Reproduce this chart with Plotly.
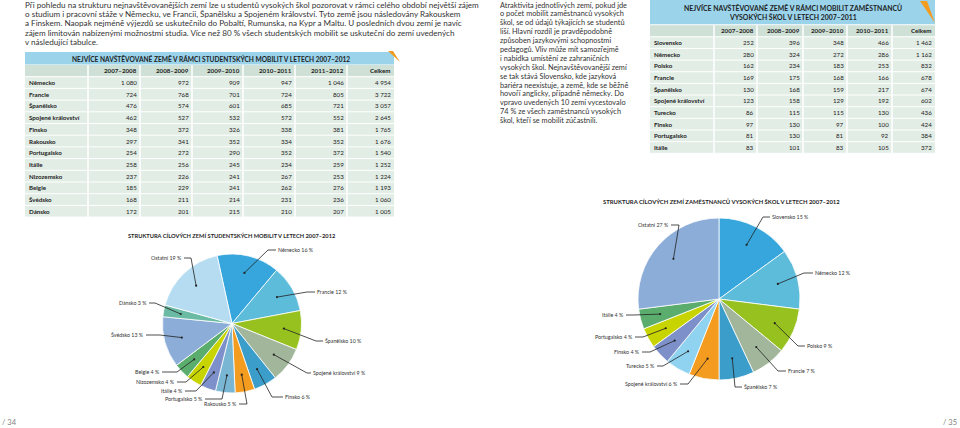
import numpy as np
import plotly.graph_objects as go

W, H = 960, 428
FONT = "Lato"

# ---------------- data ----------------
stud_years = ["2007–2008", "2008–2009", "2009–2010", "2010–2011", "2011–2012"]
stud_countries = ["Německo", "Francie", "Španělsko", "Spojené království", "Finsko", "Rakousko",
                  "Portugalsko", "Itálie", "Nizozemsko", "Belgie", "Švédsko", "Dánsko"]
stud_0708 = [1080, 724, 476, 462, 348, 297, 254, 258, 237, 185, 168, 172]
stud_0809 = [972, 768, 574, 527, 372, 341, 272, 256, 226, 229, 211, 201]
stud_0910 = [909, 701, 601, 532, 326, 352, 290, 245, 241, 241, 214, 215]
stud_1011 = [947, 724, 685, 572, 338, 334, 352, 234, 267, 262, 231, 210]
stud_1112 = [1046, 805, 721, 552, 381, 352, 372, 259, 253, 276, 236, 207]
stud_total = [4954, 3722, 3057, 2645, 1765, 1676, 1540, 1252, 1224, 1193, 1060, 1005]

staff_years = ["2007–2008", "2008–2009", "2009–2010", "2010–2011"]
staff_countries = ["Slovensko", "Německo", "Polsko", "Francie", "Španělsko", "Spojené království",
                   "Turecko", "Finsko", "Portugalsko", "Itálie"]
staff_0708 = [252, 280, 162, 169, 130, 123, 86, 97, 81, 83]
staff_0809 = [396, 324, 234, 175, 168, 158, 115, 130, 130, 101]
staff_0910 = [348, 272, 183, 168, 159, 129, 115, 97, 81, 83]
staff_1011 = [466, 286, 253, 166, 217, 192, 130, 100, 92, 105]
staff_total = [1462, 1162, 832, 678, 674, 602, 436, 424, 384, 372]

pie1_labels = ["Německo", "Francie", "Španělsko", "Spojené království", "Finsko", "Rakousko",
               "Portugalsko", "Itálie", "Nizozemsko", "Belgie", "Švédsko", "Dánsko", "Ostatní"]
pie1_values = [16, 12, 10, 9, 6, 5, 5, 4, 4, 4, 13, 3, 19]

pie2_labels = ["Slovensko", "Německo", "Polsko", "Francie", "Španělsko", "Spojené království",
               "Turecko", "Finsko", "Portugalsko", "Itálie", "Ostatní"]
pie2_values = [15, 12, 9, 7, 7, 6, 5, 4, 4, 4, 27]

text_left = [
    "Při pohledu na strukturu nejnavštěvovanějších zemí lze u studentů vysokých škol pozorovat v rámci celého období největší zájem",
    "o studium i pracovní stáže v Německu, ve Francii, Španělsku a Spojeném království. Tyto země jsou následovány Rakouskem",
    "a Finskem. Naopak nejméně výjezdů se uskutečnilo do Pobaltí, Rumunska, na Kypr a Maltu. U posledních dvou zemí je navíc",
    "zájem limitován nabízenými možnostmi studia. Více než 80 % všech studentských mobilit se uskuteční do zemí uvedených",
    "v následující tabulce.",
]
text_right = [
    "Atraktivita jednotlivých zemí, pokud jde",
    "o počet mobilit zaměstnanců vysokých",
    "škol, se od údajů týkajících se studentů",
    "liší. Hlavní rozdíl je pravděpodobně",
    "způsoben jazykovými schopnostmi",
    "pedagogů. Vliv může mít samozřejmě",
    "i nabídka umístění ze zahraničních",
    "vysokých škol. Nejnavštěvovanější zemí",
    "se tak stává Slovensko, kde jazyková",
    "bariéra neexistuje, a země, kde se běžně",
    "hovoří anglicky, případně německy. Do",
    "vpravo uvedených 10 zemí vycestovalo",
    "74 % ze všech zaměstnanců vysokých",
    "škol, kteří se mobilit zúčastnili.",
]

# ---------------- styles ----------------
pie1_colors = ["#36a6dc", "#5cbcda", "#96c11f", "#a2b69c", "#3b9dca", "#f39c1f", "#78b6d4",
               "#7d90c9", "#c8d400", "#5bad6d", "#8cadd8", "#6bbaa3", "#b6dcf1"]
pie2_colors = ["#36a6dc", "#5cbcda", "#96c11f", "#a2b69c", "#3b9dca", "#f39c1f", "#8fd3f0",
               "#7d90c9", "#c8d400", "#5bad6d", "#8cadd8"]

# label layout: elbow point and text x (page pixels)
label_pos1 = {
    "Německo": (268, 250, 277), "Francie": (307, 292, 316), "Španělsko": (316, 341, 324),
    "Spojené království": (307, 373, 312), "Finsko": (272, 397, 284), "Rakousko": (247, 404, 238),
    "Portugalsko": (222, 399, 204), "Itálie": (196, 391, 184), "Nizozemsko": (186, 382, 176),
    "Belgie": (177, 372, 161), "Švédsko": (160, 335, 145), "Dánsko": (155, 303, 148),
    "Ostatní": (191, 258, 183),
}
label_pos2 = {
    "Slovensko": (763, 217, 771), "Německo": (804, 273, 814), "Polsko": (798, 346, 806),
    "Francie": (778, 371, 787), "Španělsko": (735, 387, 743), "Spojené království": (688, 384, 679),
    "Turecko": (663, 366, 656), "Finsko": (650, 352, 641), "Portugalsko": (643, 337, 634),
    "Itálie": (633, 315, 625), "Ostatní": (679, 225, 670),
}

TXT = "#333333"
BLUE_BAR = "#9ad3ea"
HEAD_BG = "#cfe0d6"
CELL_BG = "#e2ede6"


def px(x):
    return x / W


def py(y):
    return 1 - y / H


def fmt(v):
    return f"{v:,}".replace(",", "\u00a0")


fig = go.Figure()


def text(x, y, t, size, anchor="left", color=TXT):
    fig.add_annotation(x=px(x), y=py(y), xref="paper", yref="paper", text=t, showarrow=False,
                       xanchor=anchor, yanchor="middle", borderpad=0,
                       font=dict(family=FONT, size=size, color=color))


def rect(x0, y0, x1, y1, color):
    fig.add_shape(type="rect", xref="paper", yref="paper", x0=px(x0), x1=px(x1),
                  y0=py(y1), y1=py(y0), fillcolor=color, line=dict(width=0), layer="below")


def hline(x0, x1, y, color="white", w=1):
    fig.add_shape(type="line", xref="paper", yref="paper", x0=px(x0), x1=px(x1),
                  y0=py(y), y1=py(y), line=dict(color=color, width=w))


def vline(x, y0, y1, color="white", w=1.5):
    fig.add_shape(type="line", xref="paper", yref="paper", x0=px(x), x1=px(x),
                  y0=py(y0), y1=py(y1), line=dict(color=color, width=w))


def draw_table(rows, cols, header, xs, y_head, head_h, row_h):
    """rows: row labels, cols: list of value lists, xs: column boundaries (px)."""
    y_body = y_head + head_h
    y_end = y_body + row_h * len(rows)
    rect(xs[0], y_head, xs[-1], y_body, HEAD_BG)
    rect(xs[0], y_body, xs[-1], y_end, CELL_BG)
    for i in range(len(rows) + 1):
        hline(xs[0], xs[-1], y_body + i * row_h)
    for x in xs[1:-1]:
        vline(x, y_head, y_end)
    for j, h in enumerate(header):
        text(xs[j + 2] - 2.5, y_head + head_h / 2, f"<b>{h}</b>", 6.2, "right", "#222")
    for i, r in enumerate(rows):
        yc = y_body + (i + 0.5) * row_h
        text(xs[0] + 3, yc, f"<b>{r}</b>", 6.2, "left", "#222")
        for j, col in enumerate(cols):
            text(xs[j + 2] - 2.5, yc, fmt(col[i]), 6.2, "right", "#222")


draw_table(stud_countries, [stud_0708, stud_0809, stud_0910, stud_1011, stud_1112, stud_total],
           stud_years + ["Celkem"], [25, 88, 140, 192, 243, 295, 347, 394], 65, 11.7, 11.7)
draw_table(staff_countries, [staff_0708, staff_0809, staff_0910, staff_1011, staff_total],
           staff_years + ["Celkem"], [650, 714, 757, 803, 847, 892, 935], 25.2, 11.6, 11.65)


def add_pie(labels, values, colors, cx, cy, r, positions, rotation=0):
    fig.add_trace(go.Pie(
        labels=labels, values=values, sort=False, direction="clockwise",
        rotation=rotation, textinfo="none", hoverinfo="label+percent",
        marker=dict(colors=colors, line=dict(color="white", width=0.8)),
        domain=dict(x=[px(cx - r), px(cx + r)], y=[py(cy + r), py(cy - r)]),
        showlegend=False,
    ))
    vals = np.array(values, dtype=float)
    mids = (np.cumsum(vals) - vals / 2) / vals.sum() * 360 + rotation
    for lab, val, a in zip(labels, values, mids):
        ang = np.radians(a)
        dx, dy = cx + 0.75 * r * np.sin(ang), cy - 0.75 * r * np.cos(ang)
        ex, ey, tx = positions[lab]
        right = tx > ex
        tend = tx - 1 if right else tx + 1
        fig.add_shape(type="path",
                      path=f"M {px(dx)},{py(dy)} L {px(ex)},{py(ey)} L {px(tend)},{py(ey)}",
                      xref="paper", yref="paper", line=dict(color="#222", width=0.8), layer="above")
        fig.add_shape(type="circle", xref="paper", yref="paper",
                      x0=px(dx - 1.1), x1=px(dx + 1.1), y0=py(dy + 1.1), y1=py(dy - 1.1),
                      fillcolor="#222", line=dict(width=0), layer="above")
        text(tx, ey, f"{lab} {val} %", 5.3, "left" if right else "right")


# left pie: first slice starts slightly left of 12 o'clock
add_pie(pie1_labels, pie1_values, pie1_colors, 232, 323.5, 69.5, label_pos1, rotation=-12.4)
add_pie(pie2_labels, pie2_values, pie2_colors, 719, 299, 81, label_pos2)

# title bars
rect(25, 52, 394, 64.5, BLUE_BAR)
fig.add_shape(type="path", xref="paper", yref="paper",
              path=f"M {px(388)},{py(51)} L {px(393)},{py(51)} L {px(400)},{py(62)} Z",
              fillcolor="#f39c1f", line=dict(width=0))
rect(650, 0, 935, 24.2, BLUE_BAR)
fig.add_shape(type="path", xref="paper", yref="paper",
              path=f"M {px(920)},{py(1)} L {px(927)},{py(1)} L {px(935)},{py(23)} Z",
              fillcolor="#f39c1f", line=dict(width=0))

text(211, 58.5, "<b>NEJVÍCE NAVŠTĚVOVANÉ ZEMĚ V RÁMCI STUDENTSKÝCH MOBILIT V LETECH 2007–2012</b>",
     6.6, "center", "#1e1e1e")
text(793, 7.5, "<b>NEJVÍCE NAVŠTĚVOVANÉ ZEMĚ V RÁMCI MOBILIT ZAMĚSTNANCŮ</b>", 6.9, "center", "#1e1e1e")
text(793, 16.5, "<b>VYSOKÝCH ŠKOL V LETECH 2007–2011</b>", 6.9, "center", "#1e1e1e")
text(232, 235, "<b>STRUKTURA CÍLOVÝCH ZEMÍ STUDENTSKÝCH MOBILIT V LETECH 2007–2012</b>",
     5.7, "center", "#1e1e1e")
text(721, 201, "<b>STRUKTURA CÍLOVÝCH ZEMÍ ZAMĚSTNANCŮ VYSOKÝCH ŠKOL V LETECH 2007–2012</b>",
     5.9, "center", "#1e1e1e")

for i, line in enumerate(text_left):
    text(24, 5 + i * 9.2, line, 8.1)
for i, line in enumerate(text_right):
    text(499, 5 + i * 8.9, line, 7.35)

text(1, 422, "/ 34", 7.5, "left", "#808080")
text(958, 422, "/ 35", 7.5, "right", "#808080")

fig.update_layout(
    width=W, height=H, autosize=False,
    margin=dict(l=0, r=0, t=0, b=0),
    paper_bgcolor="white", plot_bgcolor="white",
    showlegend=False,
)

fig.write_html("out.html", config={"displayModeBar": False},
               post_script="document.body.style.margin='0';")
